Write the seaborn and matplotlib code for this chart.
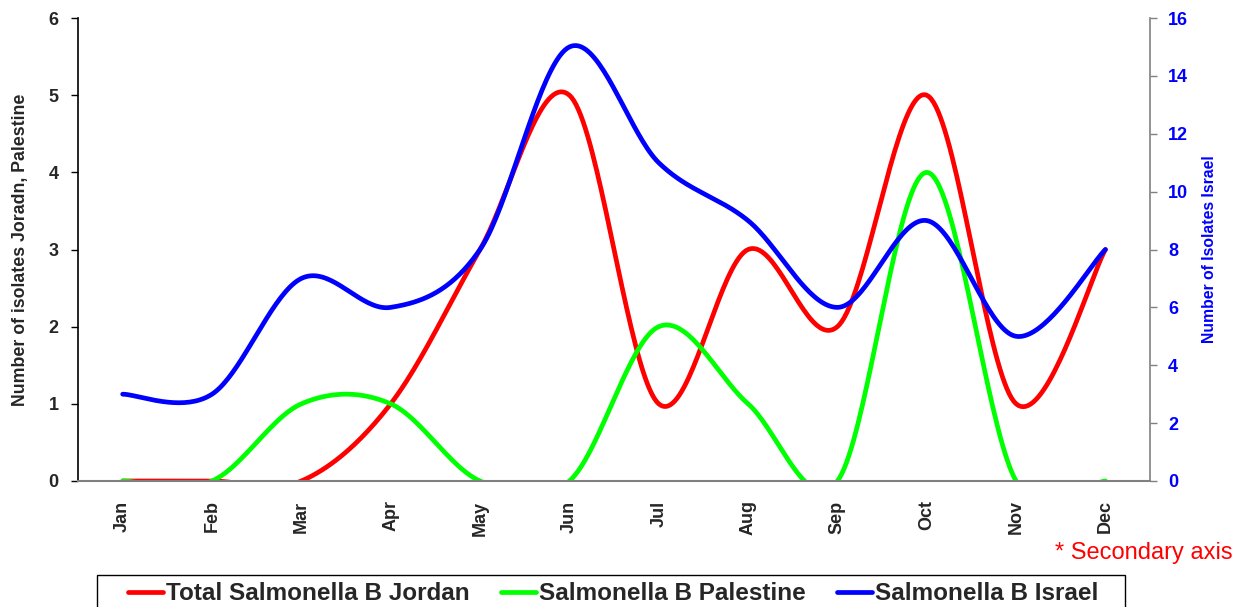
import numpy as np
import pandas as pd
import matplotlib
matplotlib.use("Agg")
import matplotlib.pyplot as plt
from matplotlib.patches import Rectangle
import seaborn as sns

months = ["Jan", "Feb", "Mar", "Apr", "May", "Jun", "Jul", "Aug", "Sep", "Oct", "Nov", "Dec"]
jordan = [0, 0, 0, 1, 3, 5, 1, 3, 2, 5, 1, 3]
palestine = [0, 0, 1, 1, 0, 0, 2, 1, 0, 4, 0, 0]
israel = [3, 3, 7, 6, 8, 15, 11, 9, 6, 9, 5, 8]

left_ticks = [0, 1, 2, 3, 4, 5, 6]
right_ticks = [0, 2, 4, 6, 8, 10, 12, 14, 16]


def smooth(vals, n=40):
    """Excel-style smoothed line: cubic Bezier segments with Catmull-Rom control points."""
    p = np.asarray(vals, dtype=float)
    x = np.arange(len(p), dtype=float)
    ext = np.concatenate([[p[0]], p, [p[-1]]])
    xe = np.concatenate([[x[0]], x, [x[-1]]])
    xs, ys = [], []
    t = np.linspace(0, 1, n)
    for i in range(len(p) - 1):
        p0, p3 = p[i], p[i + 1]
        x0, x3 = x[i], x[i + 1]
        p1 = p0 + (ext[i + 2] - ext[i]) / 6
        p2 = p3 - (ext[i + 3] - ext[i + 1]) / 6
        x1 = x0 + (xe[i + 2] - xe[i]) / 6
        x2 = x3 - (xe[i + 3] - xe[i + 1]) / 6
        b = lambda a0, a1, a2, a3: ((1 - t) ** 3 * a0 + 3 * (1 - t) ** 2 * t * a1
                                    + 3 * (1 - t) * t ** 2 * a2 + t ** 3 * a3)
        xs.append(b(x0, x1, x2, x3))
        ys.append(b(p0, p1, p2, p3))
    return np.concatenate(xs), np.concatenate(ys)


sns.set_theme(style="white")
plt.rcParams["font.family"] = ["Liberation Sans", "DejaVu Sans"]

W, H = 1238, 607
fig = plt.figure(figsize=(W / 100, H / 100), dpi=100)
ax = fig.add_axes([0.063, 0.2076, 0.866, 0.7627])
ax2 = ax.twinx()

lw = 3.4
xr, yr = smooth(jordan)
xg, yg = smooth(palestine)
xb, yb = smooth(israel)
sns.lineplot(x=xr, y=yr, ax=ax, color="#ff0000", lw=lw, sort=False, estimator=None,
             label="Total Salmonella B Jordan", legend=False)
sns.lineplot(x=xg, y=yg, ax=ax, color="#00ff00", lw=lw, sort=False, estimator=None,
             label="Salmonella B Palestine", legend=False)
sns.lineplot(x=xb, y=yb, ax=ax2, color="#0000ff", lw=lw, sort=False, estimator=None,
             label="Salmonella B Israel", legend=False)

ax.set_xlim(-0.5, len(months) - 0.5)
ax.set_ylim(0, 6)
ax2.set_ylim(0, 16)

ax.set_xticks(range(len(months)))
ax.set_xticklabels(months, rotation=90, fontweight="bold", fontsize=13)
ax.set_xticks(np.arange(-0.5, len(months), 1.0), minor=True)
ax.tick_params(axis="x", which="major", length=0, pad=14)
ax.tick_params(axis="x", which="minor", length=5, width=1, color="#808080", direction="out")
ax.set_yticks(left_ticks)
ax.set_yticklabels([str(v) for v in left_ticks], fontweight="bold", fontsize=13)
ax.tick_params(axis="y", left=True, length=5, width=1, color="black", direction="out", pad=9)
ax2.set_yticks(right_ticks)
ax2.set_yticklabels([str(v) for v in right_ticks], fontweight="bold", fontsize=13, color="#0000ff")
ax2.tick_params(axis="y", right=True, length=5, width=1, color="#808080", direction="out", pad=8)

for a in (ax, ax2):
    a.grid(False)
    a.spines["top"].set_visible(False)
    a.set_facecolor("none")
ax.spines["left"].set_color("black")
ax.spines["left"].set_linewidth(1.2)
ax.spines["bottom"].set_color("#808080")
ax.spines["bottom"].set_linewidth(1.5)
ax.spines["right"].set_visible(False)
ax2.spines["left"].set_visible(False)
ax2.spines["bottom"].set_visible(False)
ax2.spines["right"].set_color("#808080")
ax2.spines["right"].set_linewidth(1.2)

ax.set_ylabel("Number of isolates Joradn, Palestine", fontweight="bold", fontsize=12.8, labelpad=14)
ax2.set_ylabel("Number of Isolates Israel", fontweight="bold", fontsize=11.3, color="#0000ff", labelpad=10)

fig.text(0.996, 1 - 553 / H, "* Secondary axis", color="#ff0000", fontsize=17,
         ha="right", va="center")

# legend frame (box runs off the bottom edge, as in the reference)
fig.patches.append(Rectangle((97 / W, -0.02), (1125 - 97) / W, 0.02 + (H - 575) / H,
                             transform=fig.transFigure, fill=False, edgecolor="black",
                             linewidth=1.0, figure=fig))

handles = ax.get_lines() + ax2.get_lines()
labels = ["Total Salmonella B Jordan", "Salmonella B Palestine", "Salmonella B Israel"]
leg = fig.legend(handles, labels, loc="center", bbox_to_anchor=(613 / W, 1 - 594 / H),
                 ncol=3, frameon=False, prop={"weight": "bold", "size": 17.5},
                 handlelength=1.45, handletextpad=0.1, columnspacing=1.3,
                 borderpad=0, borderaxespad=0)

fig.savefig("out.png", dpi=100)
